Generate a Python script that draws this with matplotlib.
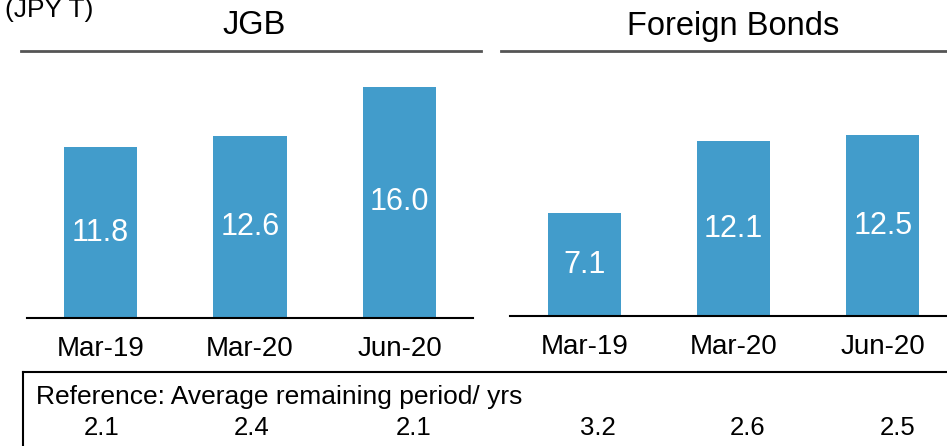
import matplotlib.pyplot as plt
from matplotlib.transforms import blended_transform_factory
import numpy as np

plt.rcParams["font.family"] = ["Liberation Sans", "DejaVu Sans"]

# data
categories = ["Mar-19", "Mar-20", "Jun-20"]
jgb = [11.8, 12.6, 16.0]
foreign = [7.1, 12.1, 12.5]
jgb_period = [2.1, 2.4, 2.1]
foreign_period = [3.2, 2.6, 2.5]

bar_color = "#429CCB"
W, H = 947, 446

fig = plt.figure(figsize=(W / 100, H / 100), dpi=100)

def px_axes(x0, x1, y_top, y_base):
    return fig.add_axes([x0 / W, (H - y_base) / H, (x1 - x0) / W, (y_base - y_top) / H])

ax1 = px_axes(27, 473, 60, 318)
ax2 = px_axes(510, 947, 60, 316)

x = np.arange(len(categories))
for ax, vals, xlim in [(ax1, jgb, (-0.49, 2.49)), (ax2, foreign, (-0.50, 2.43))]:
    bars = ax.bar(x, vals, width=0.49, color=bar_color)
    for b, v in zip(bars, vals):
        ax.text(b.get_x() + b.get_width() / 2, v / 2, f"{v:.1f}", ha="center", va="center",
                color="white", fontsize=22)
    ax.set_xlim(*xlim)
    ax.set_ylim(0, (258 if ax is ax1 else 256) / 14.45)
    ax.set_xticks(x)
    ax.set_xticklabels(categories, fontsize=20)
    ax.tick_params(axis="x", length=0, pad=13)
    ax.set_yticks([])
    for s in ["top", "left", "right"]:
        ax.spines[s].set_visible(False)
    ax.spines["bottom"].set_linewidth(1.5)

# panel titles and header lines
fig.text(254 / W, 1 - 26 / H, "JGB", ha="center", va="center", fontsize=23.5)
fig.text(733 / W, 1 - 26 / H, "Foreign Bonds", ha="center", va="center", fontsize=23.5)
fig.add_artist(plt.Line2D([21 / W, 481 / W], [1 - 51 / H] * 2, color="#555555", lw=2))
fig.add_artist(plt.Line2D([501 / W, 1], [1 - 51 / H] * 2, color="#555555", lw=2))
fig.text(5 / W, 1 + 2 / H, "(JPY T)", ha="left", va="top", fontsize=19)

# reference box
fig.add_artist(plt.Line2D([23 / W, 1], [1 - 372 / H] * 2, color="black", lw=1.5))
fig.add_artist(plt.Line2D([23 / W, 23 / W], [1 - 372 / H, 0], color="black", lw=1.5))
fig.text(36 / W, 1 - 397 / H, "Reference: Average remaining period/ yrs", ha="left",
         va="center", fontsize=19)

offsets = [0.01, 0.01, 0.09]
for ax, vals, offs in [(ax1, jgb_period, offsets), (ax2, foreign_period, [0.09, 0.09, 0.10])]:
    tr = blended_transform_factory(ax.transData, fig.transFigure)
    for xi, v, o in zip(x, vals, offs):
        ax.text(xi + o, 1 - 428 / H, f"{v:.1f}", transform=tr, ha="center", va="center",
                fontsize=18.5, clip_on=False)

plt.savefig("out.png", dpi=100)
